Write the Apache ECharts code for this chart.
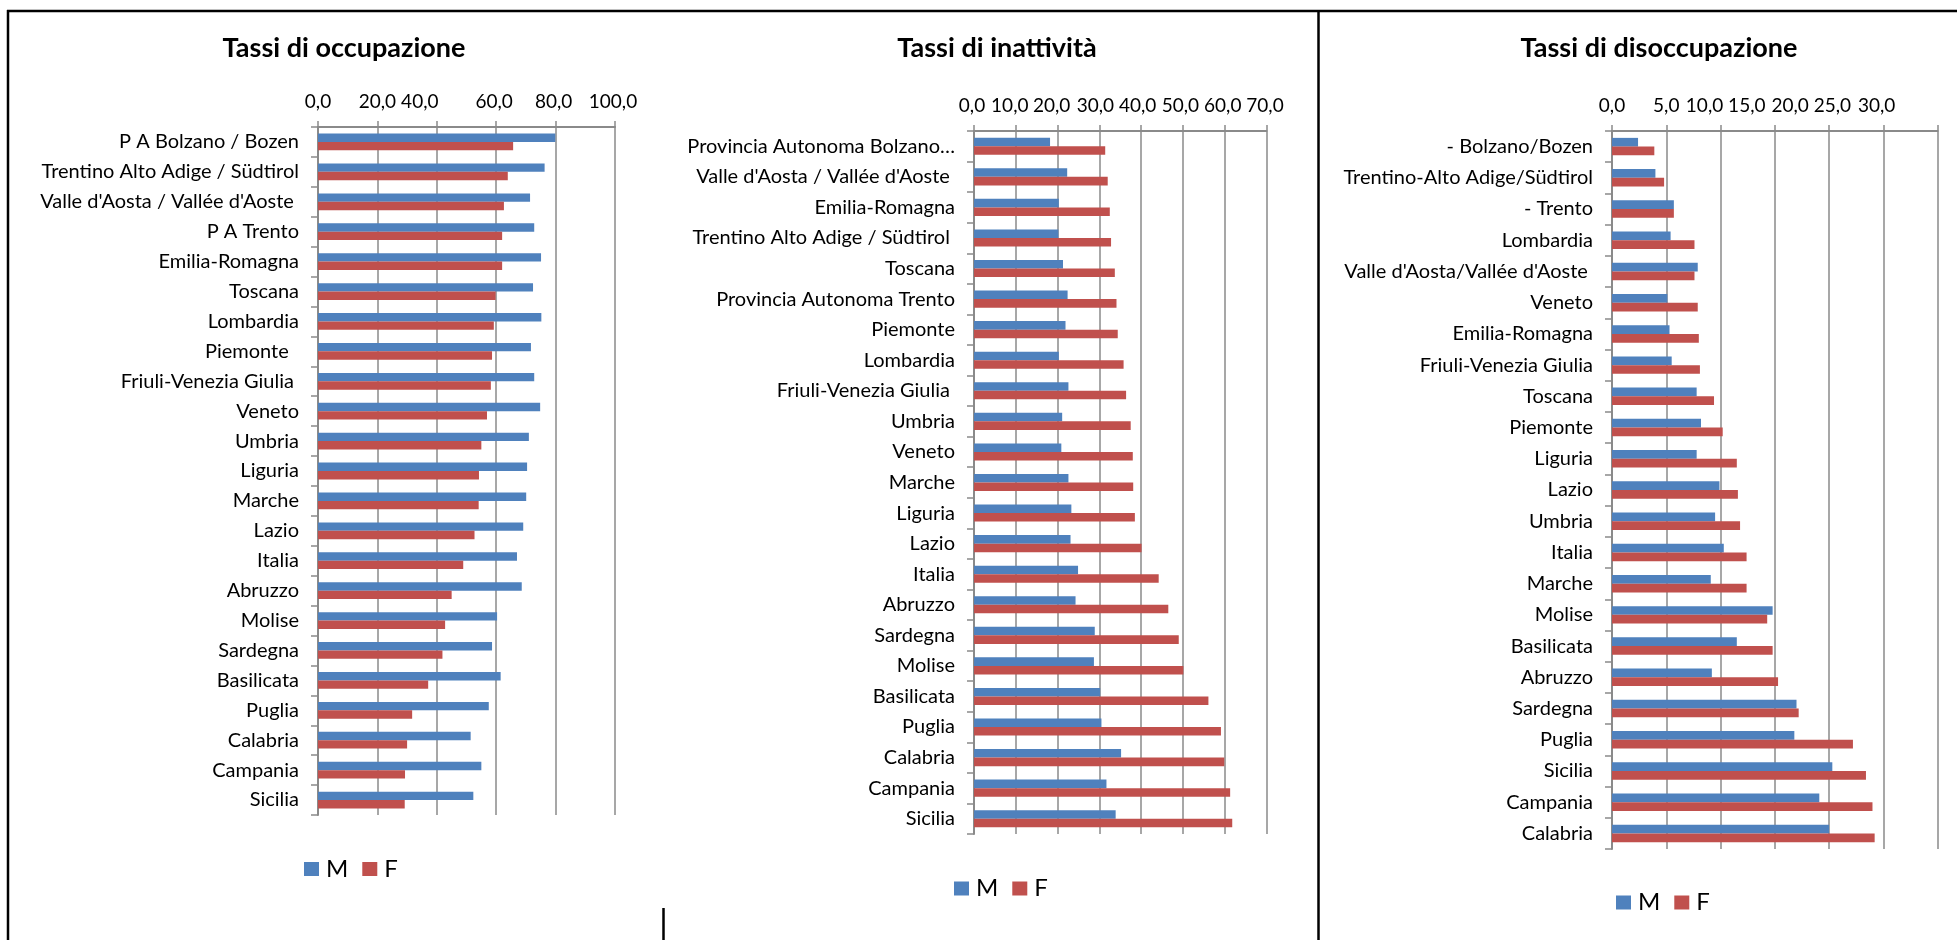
<!DOCTYPE html>
<html>
<head>
<meta charset="utf-8">
<title>Tassi di occupazione, inattività e disoccupazione per regione</title>
<script src="https://cdn.jsdelivr.net/npm/echarts@6/dist/echarts.min.js"></script>
<style>
  html, body { margin: 0; padding: 0; background: #ffffff; }
  #chart { width: 1957px; height: 940px; }
</style>
</head>
<body>
<div id="chart"></div>
<script>
// ---- Tassi di occupazione ----
const occRegions = [
  'P A Bolzano / Bozen', 'Trentino Alto Adige / Südtirol', "Valle d'Aosta / Vallée d'Aoste ",
  'P A Trento', 'Emilia-Romagna', 'Toscana', 'Lombardia', 'Piemonte  ',
  'Friuli-Venezia Giulia ', 'Veneto', 'Umbria', 'Liguria', 'Marche', 'Lazio', 'Italia',
  'Abruzzo', 'Molise', 'Sardegna', 'Basilicata', 'Puglia', 'Calabria', 'Campania', 'Sicilia'
];
const occM = [79.9, 76.3, 71.4, 72.8, 75.1, 72.4, 75.2, 71.7, 72.8, 74.8, 71.0, 70.4,
  70.1, 69.1, 67.0, 68.6, 60.3, 58.6, 61.5, 57.5, 51.4, 55.0, 52.3];
const occF = [65.7, 63.9, 62.6, 62.0, 62.0, 59.8, 59.2, 58.6, 58.2, 56.9, 55.0, 54.2,
  54.1, 52.7, 48.9, 45.0, 42.8, 41.9, 37.1, 31.7, 30.0, 29.3, 29.2];
const occTicks = ['0,0', '20,0', '40,0', '60,0', '80,0', '100,0'];

// ---- Tassi di inattività ----
const inaRegions = [
  'Provincia Autonoma Bolzano…', "Valle d'Aosta / Vallée d'Aoste ", 'Emilia-Romagna',
  'Trentino Alto Adige / Südtirol ', 'Toscana', 'Provincia Autonoma Trento', 'Piemonte',
  'Lombardia', 'Friuli-Venezia Giulia ', 'Umbria', 'Veneto', 'Marche', 'Liguria', 'Lazio',
  'Italia', 'Abruzzo', 'Sardegna', 'Molise', 'Basilicata', 'Puglia', 'Calabria', 'Campania', 'Sicilia'
];
const inaM = [18.2, 22.3, 20.3, 20.2, 21.3, 22.4, 21.9, 20.3, 22.6, 21.1, 20.9, 22.6,
  23.3, 23.1, 24.9, 24.3, 28.9, 28.7, 30.2, 30.5, 35.2, 31.7, 33.9];
const inaF = [31.4, 32.0, 32.5, 32.8, 33.7, 34.1, 34.4, 35.8, 36.4, 37.5, 38.0, 38.1,
  38.5, 40.1, 44.2, 46.5, 49.0, 50.1, 56.1, 59.1, 59.9, 61.3, 61.8];
const inaTicks = ['0,0', '10,0', '20,0', '30,0', '40,0', '50,0', '60,0', '70,0'];

// ---- Tassi di disoccupazione ----
const disRegions = [
  '- Bolzano/Bozen', 'Trentino-Alto Adige/Südtirol', '- Trento', 'Lombardia',
  "Valle d'Aosta/Vallée d'Aoste ", 'Veneto', 'Emilia-Romagna', 'Friuli-Venezia Giulia',
  'Toscana', 'Piemonte', 'Liguria', 'Lazio', 'Umbria', 'Italia', 'Marche', 'Molise',
  'Basilicata', 'Abruzzo', 'Sardegna', 'Puglia', 'Sicilia', 'Campania', 'Calabria'
];
const disM = [2.4, 4.0, 5.7, 5.4, 7.9, 5.1, 5.3, 5.5, 7.8, 8.2, 7.8, 9.9, 9.5, 10.3,
  9.1, 14.8, 11.5, 9.2, 17.0, 16.8, 20.3, 19.1, 20.0];
const disF = [3.9, 4.8, 5.7, 7.6, 7.6, 7.9, 8.0, 8.1, 9.4, 10.2, 11.5, 11.6, 11.8, 12.4,
  12.4, 14.3, 14.8, 15.3, 17.2, 22.2, 23.4, 24.0, 24.2];
const disTicks = ['0,0', '5,0', '10,0', '15,0', '20,0', '25,0', '30,0'];

const seriesNames = ['M', 'F'];

// ---- styling and layout ----
const FONT = 'Lato, "Open Sans", sans-serif';
const GRID_GREY = '#8a8a8a';
const COLOR_M = '#4f81bd';
const COLOR_F = '#c0504d';

const panels = [
  {
    title: 'Tassi di occupazione', titleX: 344,
    regions: occRegions, m: occM, f: occF, ticks: occTicks, max: 100, interval: 20,
    grid: { left: 318, top: 127, width: 297, height: 688 },
    tickNudge: [0, 0, -17, -2, -2, -2],
    legend: { left: 304, top: 857 }
  },
  {
    title: 'Tassi di inattività', titleX: 997,
    regions: inaRegions, m: inaM, f: inaF, ticks: inaTicks, max: 70, interval: 10,
    grid: { left: 974, top: 131, width: 292.5, height: 703 },
    tickNudge: [-2, -6, -6, -4, -3.5, -2.5, -2, -1.5],
    legend: { left: 954, top: 876.5 }
  },
  {
    title: 'Tassi di disoccupazione', titleX: 1659,
    regions: disRegions, m: disM, f: disF, ticks: disTicks, max: 30, interval: 5,
    grid: { left: 1612, top: 131, width: 325.6, height: 718 },
    tickNudge: [0, 0, -16, -28, -39, -51, -61],
    legend: { left: 1616, top: 890.5 }
  }
];

const tickFont = { fontFamily: FONT, fontSize: 19, color: '#000' };

const option = {
  animation: false,
  backgroundColor: '#ffffff',
  textStyle: { fontFamily: FONT },
  title: panels.map(p => ({
    text: p.title,
    left: p.titleX,
    top: 35,
    textAlign: 'center',
    padding: 0,
    textStyle: { fontFamily: FONT, fontSize: 27, fontWeight: 'bold', color: '#000' }
  })),
  legend: panels.map(p => ({
    data: seriesNames,
    left: p.legend.left,
    top: p.legend.top,
    orient: 'horizontal',
    padding: 0,
    icon: 'rect',
    itemWidth: 15,
    itemHeight: 14,
    itemGap: 14,
    selectedMode: false,
    textStyle: { fontFamily: FONT, fontSize: 24, color: '#000', lineHeight: 24, padding: [0, 0, 0, 2] }
  })),
  grid: panels.map(p => Object.assign({ containLabel: false, outerBoundsMode: 'none' }, p.grid)),
  xAxis: panels.map((p, i) => {
    const rich = {};
    p.ticks.forEach((t, k) => {
      const shift = p.tickNudge[k] || 0;
      rich['t' + k] = Object.assign({
        padding: [0, shift < 0 ? -2 * shift : 0, 0, shift > 0 ? 2 * shift : 0]
      }, tickFont);
    });
    return {
      type: 'value',
      gridIndex: i,
      position: 'top',
      min: 0,
      max: p.max,
      interval: p.interval,
      axisLine: { show: true, lineStyle: { color: GRID_GREY, width: 2 } },
      axisTick: { show: true, length: 6, lineStyle: { color: GRID_GREY, width: 1.5 } },
      splitLine: { show: true, lineStyle: { color: GRID_GREY, width: 1.5 } },
      axisLabel: Object.assign({
        margin: 16,
        showMinLabel: true,
        showMaxLabel: true,
        hideOverlap: false,
        rich: rich,
        formatter: v => {
          const k = Math.round(v / p.interval);
          return '{t' + k + '|' + p.ticks[k] + '}';
        }
      }, tickFont)
    };
  }),
  yAxis: panels.map((p, i) => ({
    type: 'category',
    gridIndex: i,
    inverse: true,
    data: p.regions,
    axisLine: { show: true, lineStyle: { color: GRID_GREY, width: 2 } },
    axisTick: { show: true, length: 7, lineStyle: { color: GRID_GREY, width: 1.5 } },
    splitLine: { show: false },
    axisLabel: {
      interval: 0,
      margin: 19,
      fontFamily: FONT,
      fontSize: 20,
      color: '#000',
      hideOverlap: false
    }
  })),
  series: panels.flatMap((p, i) => [
    {
      name: seriesNames[0], type: 'bar', xAxisIndex: i, yAxisIndex: i, data: p.m,
      barGap: '0%', barCategoryGap: '44%',
      itemStyle: { color: COLOR_M }
    },
    {
      name: seriesNames[1], type: 'bar', xAxisIndex: i, yAxisIndex: i, data: p.f,
      barGap: '0%', barCategoryGap: '44%',
      itemStyle: { color: COLOR_F }
    }
  ]),
  // panel frame of the table layout
  graphic: [
    { type: 'line', shape: { x1: 7, y1: 11, x2: 1957, y2: 11 }, style: { stroke: '#000', lineWidth: 2.5 } },
    { type: 'line', shape: { x1: 8, y1: 10, x2: 8, y2: 940 }, style: { stroke: '#000', lineWidth: 2.5 } },
    { type: 'line', shape: { x1: 1318.5, y1: 10, x2: 1318.5, y2: 940 }, style: { stroke: '#000', lineWidth: 2.5 } },
    { type: 'line', shape: { x1: 663.5, y1: 908, x2: 663.5, y2: 940 }, style: { stroke: '#000', lineWidth: 2.5 } }
  ]
};

const chart = echarts.init(document.getElementById('chart'), null, { renderer: 'canvas' });
chart.setOption(option);
</script>
</body>
</html>
